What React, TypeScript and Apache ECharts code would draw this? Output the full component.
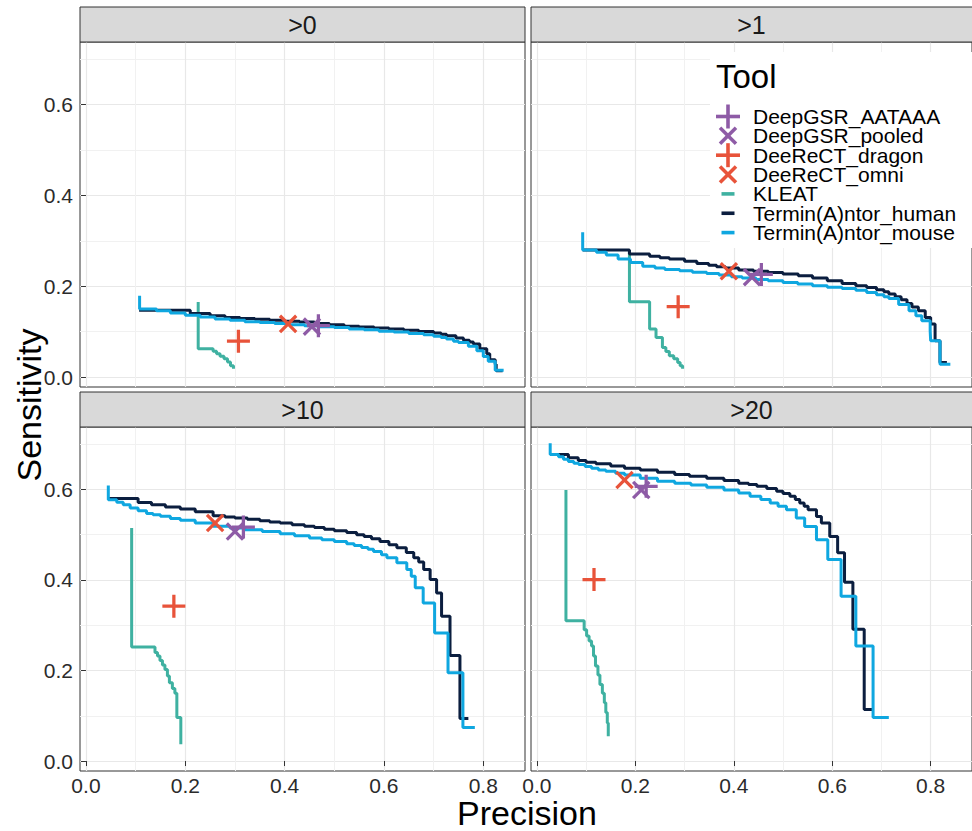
import React, { useEffect, useRef } from 'react';
import * as echarts from 'echarts';

// ---------- data ----------
const panels = ['>0', '>1', '>10', '>20'];
const tools = [
  'DeepGSR_AATAAA',
  'DeepGSR_pooled',
  'DeeReCT_dragon',
  'DeeReCT_omni',
  'KLEAT',
  'Termin(A)ntor_human',
  'Termin(A)ntor_mouse',
];
const toolColors = ['#8E5BA6', '#8E5BA6', '#E8533A', '#E8533A', '#3FB1A1', '#0B1E3F', '#0FA7E0'];
const toolShapes = ['plus', 'cross', 'plus', 'cross', 'line', 'line', 'line'];
const xTicks = [0, 0.2, 0.4, 0.6, 0.8];
const yTicks = [0, 0.2, 0.4, 0.6];

// point tools: [precision, sensitivity], one per panel
const deepgsrAATAAA = [[0.468, 0.113], [0.456, 0.226], [0.317, 0.517], [0.222, 0.607]];
const deepgsrPooled = [[0.455, 0.111], [0.437, 0.22], [0.3, 0.507], [0.212, 0.599]];
const deerectDragon = [[0.307, 0.079], [0.287, 0.155], [0.177, 0.342], [0.116, 0.401]];
const deerectOmni = [[0.407, 0.117], [0.39, 0.233], [0.26, 0.526], [0.178, 0.621]];

// curve tools: [precision, sensitivity] per panel
const kleatP0 = [[0.226, 0.165], [0.226, 0.062], [0.256, 0.057], [0.263, 0.051], [0.27, 0.046], [0.278, 0.04], [0.285, 0.033], [0.291, 0.025], [0.297, 0.018]];
const kleatP1 = [[0.188, 0.28], [0.188, 0.166], [0.229, 0.106], [0.242, 0.087], [0.255, 0.065], [0.262, 0.056], [0.269, 0.047], [0.278, 0.04], [0.286, 0.032], [0.291, 0.025], [0.296, 0.018]];
const kleatP10 = [[0.092, 0.515], [0.092, 0.252], [0.139, 0.24], [0.144, 0.232], [0.149, 0.222], [0.154, 0.212], [0.159, 0.202], [0.164, 0.188], [0.168, 0.173], [0.174, 0.16], [0.179, 0.15], [0.183, 0.096], [0.191, 0.088], [0.191, 0.037]];
const kleatP20 = [[0.059, 0.599], [0.059, 0.31], [0.096, 0.29], [0.101, 0.276], [0.106, 0.265], [0.111, 0.254], [0.115, 0.232], [0.119, 0.21], [0.124, 0.19], [0.128, 0.169], [0.133, 0.15], [0.137, 0.129], [0.14, 0.107], [0.143, 0.084], [0.145, 0.055]];

const humanP0 = [[0.107, 0.147], [0.21, 0.14], [0.25, 0.135], [0.28, 0.131], [0.31, 0.129], [0.34, 0.127], [0.37, 0.125], [0.4, 0.123], [0.43, 0.121], [0.46, 0.118], [0.49, 0.115], [0.52, 0.112], [0.55, 0.11], [0.58, 0.108], [0.61, 0.106], [0.64, 0.103], [0.67, 0.1], [0.7, 0.097], [0.715, 0.094], [0.726, 0.091], [0.745, 0.086], [0.76, 0.081], [0.772, 0.077], [0.78, 0.073], [0.793, 0.062], [0.807, 0.051], [0.813, 0.038], [0.824, 0.028], [0.826, 0.014], [0.839, 0.014]];
const humanP1 = [[0.093, 0.28], [0.188, 0.271], [0.229, 0.266], [0.25, 0.263], [0.269, 0.26], [0.3, 0.255], [0.325, 0.25], [0.349, 0.246], [0.365, 0.243], [0.383, 0.24], [0.41, 0.236], [0.44, 0.233], [0.47, 0.23], [0.5, 0.227], [0.531, 0.223], [0.56, 0.218], [0.59, 0.212], [0.62, 0.206], [0.648, 0.201], [0.67, 0.197], [0.69, 0.192], [0.705, 0.188], [0.715, 0.183], [0.728, 0.177], [0.74, 0.17], [0.752, 0.162], [0.762, 0.154], [0.775, 0.146], [0.789, 0.131], [0.8, 0.117], [0.809, 0.08], [0.819, 0.032], [0.833, 0.032]];
const humanP10 = [[0.045, 0.58], [0.105, 0.571], [0.132, 0.566], [0.16, 0.561], [0.19, 0.557], [0.22, 0.551], [0.256, 0.542], [0.28, 0.539], [0.3, 0.537], [0.325, 0.534], [0.35, 0.531], [0.37, 0.528], [0.391, 0.526], [0.415, 0.522], [0.44, 0.519], [0.46, 0.516], [0.48, 0.512], [0.5, 0.509], [0.525, 0.505], [0.545, 0.5], [0.56, 0.496], [0.575, 0.491], [0.592, 0.485], [0.61, 0.478], [0.626, 0.471], [0.645, 0.461], [0.66, 0.449], [0.67, 0.44], [0.68, 0.423], [0.693, 0.401], [0.706, 0.371], [0.716, 0.32], [0.733, 0.233], [0.753, 0.094], [0.77, 0.094]];
const humanP20 = [[0.027, 0.677], [0.064, 0.67], [0.084, 0.664], [0.1, 0.66], [0.12, 0.657], [0.15, 0.652], [0.178, 0.647], [0.21, 0.643], [0.245, 0.638], [0.28, 0.633], [0.31, 0.629], [0.345, 0.625], [0.38, 0.62], [0.41, 0.614], [0.43, 0.611], [0.447, 0.607], [0.467, 0.602], [0.487, 0.596], [0.5, 0.591], [0.514, 0.585], [0.525, 0.578], [0.534, 0.57], [0.543, 0.563], [0.551, 0.555], [0.568, 0.54], [0.578, 0.526], [0.595, 0.496], [0.611, 0.46], [0.625, 0.395], [0.642, 0.291], [0.665, 0.114], [0.682, 0.114]];

const mouseP0 = [[0.108, 0.179], [0.108, 0.15], [0.142, 0.146], [0.17, 0.141], [0.2, 0.136], [0.23, 0.132], [0.26, 0.128], [0.29, 0.125], [0.32, 0.122], [0.35, 0.12], [0.38, 0.118], [0.41, 0.115], [0.44, 0.113], [0.47, 0.111], [0.5, 0.109], [0.53, 0.106], [0.56, 0.104], [0.59, 0.101], [0.62, 0.099], [0.65, 0.096], [0.68, 0.093], [0.7, 0.09], [0.715, 0.087], [0.726, 0.084], [0.74, 0.079], [0.75, 0.076], [0.77, 0.068], [0.787, 0.058], [0.8, 0.045], [0.81, 0.035], [0.824, 0.015], [0.841, 0.015]];
const mouseP1 = [[0.093, 0.319], [0.093, 0.28], [0.121, 0.275], [0.141, 0.269], [0.165, 0.26], [0.19, 0.252], [0.215, 0.244], [0.24, 0.24], [0.26, 0.237], [0.29, 0.234], [0.316, 0.231], [0.345, 0.228], [0.37, 0.225], [0.395, 0.221], [0.417, 0.218], [0.445, 0.215], [0.47, 0.212], [0.5, 0.208], [0.53, 0.205], [0.56, 0.201], [0.59, 0.198], [0.62, 0.195], [0.648, 0.191], [0.67, 0.186], [0.69, 0.181], [0.705, 0.177], [0.715, 0.173], [0.735, 0.16], [0.756, 0.146], [0.77, 0.135], [0.782, 0.124], [0.799, 0.102], [0.8, 0.08], [0.819, 0.028], [0.84, 0.028]];
const mouseP10 = [[0.045, 0.609], [0.045, 0.577], [0.062, 0.572], [0.075, 0.566], [0.089, 0.559], [0.105, 0.553], [0.122, 0.547], [0.135, 0.544], [0.15, 0.541], [0.17, 0.536], [0.19, 0.532], [0.22, 0.526], [0.256, 0.519], [0.29, 0.515], [0.32, 0.511], [0.355, 0.507], [0.391, 0.502], [0.42, 0.498], [0.45, 0.493], [0.475, 0.489], [0.5, 0.485], [0.525, 0.48], [0.54, 0.476], [0.555, 0.472], [0.568, 0.468], [0.579, 0.463], [0.595, 0.456], [0.606, 0.449], [0.626, 0.438], [0.646, 0.423], [0.655, 0.408], [0.663, 0.383], [0.679, 0.349], [0.702, 0.283], [0.729, 0.195], [0.759, 0.074], [0.783, 0.074]];
const mouseP20 = [[0.027, 0.702], [0.027, 0.677], [0.044, 0.672], [0.054, 0.667], [0.064, 0.662], [0.075, 0.658], [0.085, 0.655], [0.098, 0.651], [0.111, 0.647], [0.125, 0.643], [0.14, 0.64], [0.16, 0.636], [0.178, 0.632], [0.21, 0.625], [0.245, 0.618], [0.28, 0.614], [0.313, 0.61], [0.345, 0.605], [0.38, 0.599], [0.41, 0.592], [0.433, 0.585], [0.455, 0.578], [0.474, 0.57], [0.49, 0.563], [0.507, 0.555], [0.527, 0.537], [0.544, 0.518], [0.568, 0.489], [0.591, 0.445], [0.618, 0.364], [0.648, 0.254], [0.683, 0.096], [0.715, 0.096]];

const pointData = [deepgsrAATAAA, deepgsrPooled, deerectDragon, deerectOmni];
const curveData = [
  [kleatP0, kleatP1, kleatP10, kleatP20],
  [humanP0, humanP1, humanP10, humanP20],
  [mouseP0, mouseP1, mouseP10, mouseP20],
];

// ---------- layout ----------
const FONT = '"Liberation Sans", Arial, Helvetica, sans-serif';
const grids = [
  { left: 80, top: 42, width: 445, height: 345 },
  { left: 531, top: 42, width: 445, height: 345 },
  { left: 80, top: 427, width: 445, height: 344 },
  { left: 531, top: 427, width: 445, height: 344 },
];
const X_MIN = -0.012;
const X_MAX = 0.884;
const Y_MIN = -0.022;
const Y_MAX = 0.738;
const PLUS_PATH = 'path://M10.3,0H13.7V10.3H24V13.7H13.7V24H10.3V13.7H0V10.3H10.3Z';

function buildOption() {
  const xAxis: any[] = [];
  const yAxis: any[] = [];
  const series: any[] = [];
  const graphic: any[] = [];

  grids.forEach((g, i) => {
    const isBottom = i >= 2;
    const isLeft = i % 2 === 0;
    xAxis.push({
      type: 'value',
      gridIndex: i,
      min: X_MIN,
      max: X_MAX,
      splitNumber: 4,
      axisLine: { show: false },
      axisTick: {
        show: isBottom,
        customValues: xTicks,
        length: 5,
        lineStyle: { color: '#333333', width: 1 },
      },
      axisLabel: {
        show: isBottom,
        customValues: xTicks,
        formatter: (v: number) => v.toFixed(1),
        fontSize: 21,
        fontFamily: FONT,
        color: '#2b2b2b',
        margin: 4,
      },
      splitLine: { show: true, lineStyle: { color: '#e8e8e8', width: 1.2 } },
      minorTick: { show: false, splitNumber: 2 },
      minorSplitLine: { show: true, lineStyle: { color: '#f1f1f1', width: 1 } },
    });
    yAxis.push({
      type: 'value',
      gridIndex: i,
      min: Y_MIN,
      max: Y_MAX,
      splitNumber: 4,
      axisLine: { show: false },
      axisTick: {
        show: isLeft,
        customValues: yTicks,
        length: 5,
        lineStyle: { color: '#333333', width: 1 },
      },
      axisLabel: {
        show: isLeft,
        customValues: yTicks,
        formatter: (v: number) => v.toFixed(1),
        fontSize: 21,
        fontFamily: FONT,
        color: '#2b2b2b',
        margin: 7,
      },
      splitLine: { show: true, lineStyle: { color: '#e8e8e8', width: 1.2 } },
      minorTick: { show: false, splitNumber: 2 },
      minorSplitLine: { show: true, lineStyle: { color: '#f1f1f1', width: 1 } },
    });

    // curves
    [4, 5, 6].forEach((ti, k) => {
      series.push({
        name: tools[ti],
        type: 'line',
        xAxisIndex: i,
        yAxisIndex: i,
        data: curveData[k][i],
        step: 'end',
        symbol: 'none',
        showSymbol: false,
        lineStyle: { color: toolColors[ti], width: 3 },
        itemStyle: { color: toolColors[ti] },
        z: 3 + k,
        silent: true,
      });
    });
    // points
    [0, 1, 2, 3].forEach((ti) => {
      series.push({
        name: tools[ti],
        type: 'scatter',
        xAxisIndex: i,
        yAxisIndex: i,
        data: [pointData[ti][i]],
        symbol: PLUS_PATH,
        symbolSize: 23,
        symbolRotate: toolShapes[ti] === 'cross' ? 45 : 0,
        itemStyle: { color: toolColors[ti], opacity: 1 },
        z: 10,
        silent: true,
      });
    });

    // strip
    graphic.push({
      type: 'rect',
      shape: { x: g.left, y: g.top - 35, width: g.width, height: 35 },
      style: { fill: '#d9d9d9', stroke: '#333333', lineWidth: 1 },
      z: 5,
    });
    graphic.push({
      type: 'text',
      x: g.left + g.width / 2 - (i % 2 === 1 ? 2 : 0),
      y: g.top - 17,
      style: {
        text: panels[i],
        font: `25px ${FONT}`,
        fill: '#1a1a1a',
        textAlign: 'center',
        textVerticalAlign: 'middle',
      },
      z: 6,
    });
  });

  // legend (inside top-right panel)
  graphic.push({
    type: 'rect',
    shape: { x: 710, y: 52, width: 262, height: 196 },
    style: { fill: '#ffffff' },
    z: 20,
  });
  graphic.push({
    type: 'text',
    x: 716,
    y: 76,
    style: {
      text: 'Tool',
      font: `33px ${FONT}`,
      fill: '#000000',
      textAlign: 'left',
      textVerticalAlign: 'middle',
    },
    z: 21,
  });
  tools.forEach((t, k) => {
    const cy = 116.5 + k * 19.35;
    const cx = 728;
    const col = toolColors[k];
    const shape = toolShapes[k];
    if (shape === 'plus') {
      graphic.push({ type: 'line', shape: { x1: cx - 12, y1: cy, x2: cx + 12, y2: cy }, style: { stroke: col, lineWidth: 3.6 }, z: 21 });
      graphic.push({ type: 'line', shape: { x1: cx, y1: cy - 12, x2: cx, y2: cy + 12 }, style: { stroke: col, lineWidth: 3.6 }, z: 21 });
    } else if (shape === 'cross') {
      graphic.push({ type: 'line', shape: { x1: cx - 8, y1: cy - 8, x2: cx + 8, y2: cy + 8 }, style: { stroke: col, lineWidth: 3.6 }, z: 21 });
      graphic.push({ type: 'line', shape: { x1: cx - 8, y1: cy + 8, x2: cx + 8, y2: cy - 8 }, style: { stroke: col, lineWidth: 3.6 }, z: 21 });
    } else {
      graphic.push({ type: 'rect', shape: { x: cx - 6.5, y: cy - 1.8, width: 13, height: 3.6 }, style: { fill: col }, z: 21 });
    }
    graphic.push({
      type: 'text',
      x: 753,
      y: cy,
      style: {
        text: t,
        font: `21px ${FONT}`,
        lineHeight: 18,
        fill: '#000000',
        textAlign: 'left',
        textVerticalAlign: 'middle',
      },
      z: 21,
    });
  });

  // axis titles
  graphic.push({
    type: 'text',
    x: 527,
    y: 813,
    style: {
      text: 'Precision',
      font: `34px ${FONT}`,
      fill: '#000000',
      textAlign: 'center',
      textVerticalAlign: 'middle',
    },
  });
  graphic.push({
    type: 'text',
    x: 29,
    y: 405,
    rotation: Math.PI / 2,
    style: {
      text: 'Sensitivity',
      font: `34px ${FONT}`,
      fill: '#000000',
      textAlign: 'center',
      textVerticalAlign: 'middle',
    },
  });

  return {
    animation: false,
    backgroundColor: '#ffffff',
    grid: grids.map((g) => ({
      ...g,
      show: true,
      backgroundColor: 'transparent',
      borderColor: '#333333',
      borderWidth: 1,
      containLabel: false,
    })),
    xAxis,
    yAxis,
    series,
    graphic,
  };
}

export default function App() {
  const ref = useRef<HTMLDivElement>(null);
  useEffect(() => {
    if (!ref.current) return;
    const chart = echarts.init(ref.current, undefined, { renderer: 'svg' });
    chart.setOption(buildOption() as any);
    return () => chart.dispose();
  }, []);
  return (
    <div
      ref={ref}
      style={{ position: 'fixed', left: 0, top: 0, width: 972, height: 831, background: '#ffffff' }}
    />
  );
}
